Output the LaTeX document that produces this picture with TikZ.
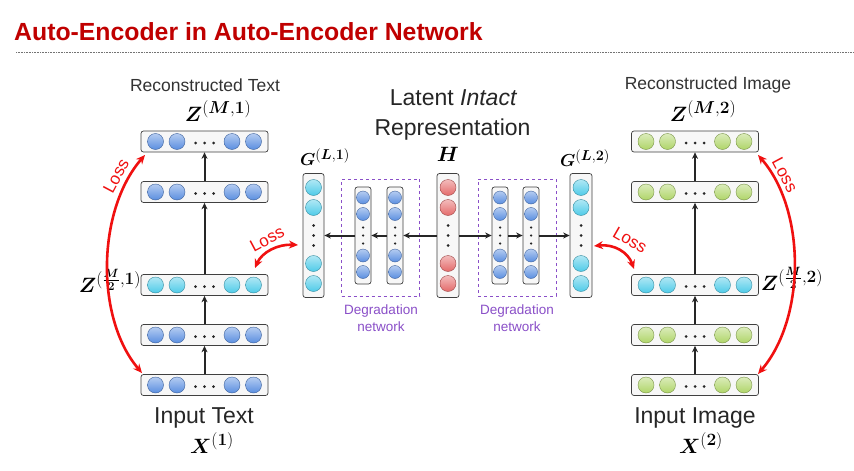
\documentclass[tikz,border=0pt]{standalone}
\usepackage{amsmath}
\usepackage{fontspec}
\setmainfont{Liberation Sans}
\usetikzlibrary{arrows.meta}
\DeclareMathSizes{17.5}{17.5}{14}{11}
\DeclareMathSizes{20.5}{20.5}{16}{12.5}
\DeclareMathSizes{22}{22}{17}{13}
\DeclareMathSizes{21}{21}{16}{12}
\definecolor{titlered}{HTML}{C00000}
\definecolor{nblue}{HTML}{5A8EE0}
\definecolor{ncyan}{HTML}{4FCBE8}
\definecolor{ngreen}{HTML}{AFD568}
\definecolor{nred}{HTML}{E46A6A}
\definecolor{dpurple}{HTML}{8A4FC8}
\definecolor{lossred}{HTML}{F01010}
\tikzset{
  lay/.style={draw=black!75, fill=black!3, rounded corners=2.5pt, line width=0.7pt, inner sep=0pt},
  hbox/.style={lay, minimum width=127pt, minimum height=21pt},
  neuron/.style={circle, inner sep=0pt, minimum size=16pt, draw=#1!70!black, line width=0.4pt, top color=#1!45!white, bottom color=#1},
  sneuron/.style={neuron=#1, minimum size=13pt},
  dotc/.style={circle, fill=black!85, inner sep=0pt, minimum size=3pt},
  fwd/.style={draw=black!85, line width=2pt, -{Stealth[length=6.5pt,width=6pt]}},
  lossarrow/.style={draw=lossred, line width=2.6pt, {Stealth[length=9pt,width=8pt]}-{Stealth[length=9pt,width=8pt]}},
  losslbl/.style={text=lossred, font=\fontsize{17}{17}\selectfont, inner sep=0pt},
  lbl/.style={font=\fontsize{17.5}{20}\selectfont, text=black!80, inner sep=0pt},
  biglbl/.style={font=\fontsize{23}{30}\selectfont, text=black!85, inner sep=0pt},
  mlbl/.style={font=\fontsize{17.5}{20}\selectfont, inner sep=0pt},
  zlbl/.style={font=\fontsize{20.5}{24}\selectfont, inner sep=0pt},
  xlbl/.style={font=\fontsize{22}{26}\selectfont, inner sep=0pt},
  deglbl/.style={font=\fontsize{13.5}{17}\selectfont, text=dpurple, align=center, inner sep=0pt},
  degbox/.style={draw=dpurple, dashed, line width=0.6pt, minimum width=78pt, minimum height=117pt, inner sep=0pt}
}
\newcommand\hlayer[4]{%
  \node[hbox] (#1) at (#2,#3) {};
  \node[neuron=#4] (#1-a) at ([xshift=-49pt]#1.center) {};
  \node[neuron=#4] (#1-b) at ([xshift=-27.5pt]#1.center) {};
  \node[neuron=#4] (#1-c) at ([xshift=27.5pt]#1.center) {};
  \node[neuron=#4] (#1-d) at ([xshift=49pt]#1.center) {};
  \node[dotc] (#1-d1) at ([xshift=-9pt,yshift=-1.5pt]#1.center) {};
  \node[dotc] (#1-d2) at ([yshift=-1.5pt]#1.center) {};
  \node[dotc] (#1-d3) at ([xshift=9pt,yshift=-1.5pt]#1.center) {};
}
\newcommand\bigvlayer[4]{%
  \node[lay, minimum width=#4pt, minimum height=124pt] (#1) at (#2,235.5) {};
  \node[neuron=#3] (#1-a) at ([yshift=48pt]#1.center) {};
  \node[neuron=#3] (#1-b) at ([yshift=28pt]#1.center) {};
  \node[neuron=#3] (#1-c) at ([yshift=-28pt]#1.center) {};
  \node[neuron=#3] (#1-d) at ([yshift=-48pt]#1.center) {};
  \node[dotc] (#1-d1) at ([yshift=10pt]#1.center) {};
  \node[dotc] (#1-d2) at (#1.center) {};
  \node[dotc] (#1-d3) at ([yshift=-10pt]#1.center) {};
}
\newcommand\smallvlayer[2]{%
  \node[lay, minimum width=16pt, minimum height=97pt] (#1) at (#2,235.5) {};
  \node[sneuron=nblue] (#1-a) at ([yshift=38pt]#1.center) {};
  \node[sneuron=nblue] (#1-b) at ([yshift=21.5pt]#1.center) {};
  \node[sneuron=nblue] (#1-c) at ([yshift=-20pt]#1.center) {};
  \node[sneuron=nblue] (#1-d) at ([yshift=-36.5pt]#1.center) {};
  \node[dotc, minimum size=2.5pt] (#1-d1) at ([yshift=8pt]#1.center) {};
  \node[dotc, minimum size=2.5pt] (#1-d2) at (#1.center) {};
  \node[dotc, minimum size=2.5pt] (#1-d3) at ([yshift=-8pt]#1.center) {};
}
\begin{document}
\begin{tikzpicture}[x=1pt, y=-1pt]
\useasboundingbox (0,0) rectangle (854,471);
\fill[white] (0,0) rectangle (854,471);
% title
\node[anchor=base west, inner sep=0pt, text=titlered, font=\fontsize{24.8}{30}\selectfont\bfseries] (title) at (14,40) {Auto-Encoder in Auto-Encoder Network};
\coordinate (ruleL) at (16,52.5);
\coordinate (ruleR) at (854,52.5);
\draw[black!55, line width=0.7pt, dash pattern=on 0.8pt off 0.8pt] (ruleL) -- (ruleR);

% left column (text)
\hlayer{L1}{204.5}{141.5}{nblue}
\hlayer{L2}{204.5}{192}{nblue}
\hlayer{L3}{204.5}{285}{ncyan}
\hlayer{L4}{204.5}{335}{nblue}
\hlayer{L5}{204.5}{385}{nblue}
\draw[fwd] (L5) -- (L4);
\draw[fwd] (L4) -- (L3);
\draw[fwd] (L3) -- (L2);
\draw[fwd] (L2) -- (L1);

% right column (image)
\hlayer{R1}{695}{141.5}{ngreen}
\hlayer{R2}{695}{192}{ngreen}
\hlayer{R3}{695}{285}{ncyan}
\hlayer{R4}{695}{335}{ngreen}
\hlayer{R5}{695}{385}{ngreen}
\draw[fwd] (R5) -- (R4);
\draw[fwd] (R4) -- (R3);
\draw[fwd] (R3) -- (R2);
\draw[fwd] (R2) -- (R1);

% center
\bigvlayer{G1}{313.5}{ncyan}{21}
\bigvlayer{H}{448}{nred}{22}
\bigvlayer{G2}{581}{ncyan}{22}
\node[degbox] (DL) at (380.5,237.5) {};
\node[degbox] (DR) at (517,237.5) {};
\smallvlayer{DL1}{363}
\smallvlayer{DL2}{395}
\smallvlayer{DR1}{500}
\smallvlayer{DR2}{531}
\draw[fwd] (H) -- (DL2);
\draw[fwd] (DL2) -- (DL1);
\draw[fwd] (DL1) -- (G1);
\draw[fwd] (H) -- (DR1);
\draw[fwd] (DR1) -- (DR2);
\draw[fwd] (DR2) -- (G2);
\node[deglbl] (DLt) at (381,318) {Degradation\\network};
\node[deglbl] (DRt) at (517,318) {Degradation\\network};

% labels
\node[lbl] (recT) at (205,85) {Reconstructed Text};
\node[zlbl] (zM1) at (218,111) {$\boldsymbol{Z}^{(\boldsymbol{M},\boldsymbol{1})}$};
\node[lbl] (recI) at (708,85) {Reconstructed Image};
\node[zlbl] (zM2) at (703,111) {$\boldsymbol{Z}^{(\boldsymbol{M},\boldsymbol{2})}$};
\node[zlbl] (zH1) at (110,281) {$\boldsymbol{Z}^{(\frac{\boldsymbol{M}}{\boldsymbol{2}},\boldsymbol{1})}$};
\node[zlbl] (zH2) at (792,279) {$\boldsymbol{Z}^{(\frac{\boldsymbol{M}}{\boldsymbol{2}},\boldsymbol{2})}$};
\node[biglbl] (inT) at (204,418) {Input Text};
\node[xlbl] (x1) at (212,443) {$\boldsymbol{X}^{(\boldsymbol{1})}$};
\node[biglbl] (inI) at (695,418) {Input Image};
\node[xlbl] (x2) at (701,443) {$\boldsymbol{X}^{(\boldsymbol{2})}$};
\node[biglbl, anchor=base] (lat1) at (453.5,105) {Latent \textit{Intact}};
\node[biglbl, anchor=base] (lat2) at (452.5,135) {Representation};
\node[mlbl] (gl1) at (325,157) {$\boldsymbol{G}^{(\boldsymbol{L},\boldsymbol{1})}$};
\node[font=\fontsize{21}{24}\selectfont, inner sep=0pt] (hl) at (448,154) {$\boldsymbol{H}$};
\node[mlbl] (gl2) at (585,158) {$\boldsymbol{G}^{(\boldsymbol{L},\boldsymbol{2})}$};

% loss arcs
\coordinate (lLt) at (145,155);
\coordinate (lLb) at (142,373);
\coordinate (lRt) at (758,155);
\coordinate (lRb) at (758,374);
\coordinate (sLa) at (255,268);
\coordinate (sLb) at (298,245);
\coordinate (sRa) at (594,246);
\coordinate (sRb) at (634,269);
\draw[lossarrow] (lLt) .. controls (97,210) and (95,318) .. (lLb);
\draw[lossarrow] (lRt) .. controls (806,210) and (806,318) .. (lRb);
\draw[lossarrow] (sLa) .. controls (262,252) and (278,244) .. (sLb);
\draw[lossarrow] (sRa) .. controls (614,244) and (628,252) .. (sRb);
\node[losslbl, rotate=62] (lossL) at (116,176) {Loss};
\node[losslbl, rotate=-62] (lossR) at (785,175) {Loss};
\node[losslbl, rotate=28] (lossSL) at (267,239) {Loss};
\node[losslbl, rotate=-30] (lossSR) at (630,240) {Loss};
\end{tikzpicture}
\end{document}
